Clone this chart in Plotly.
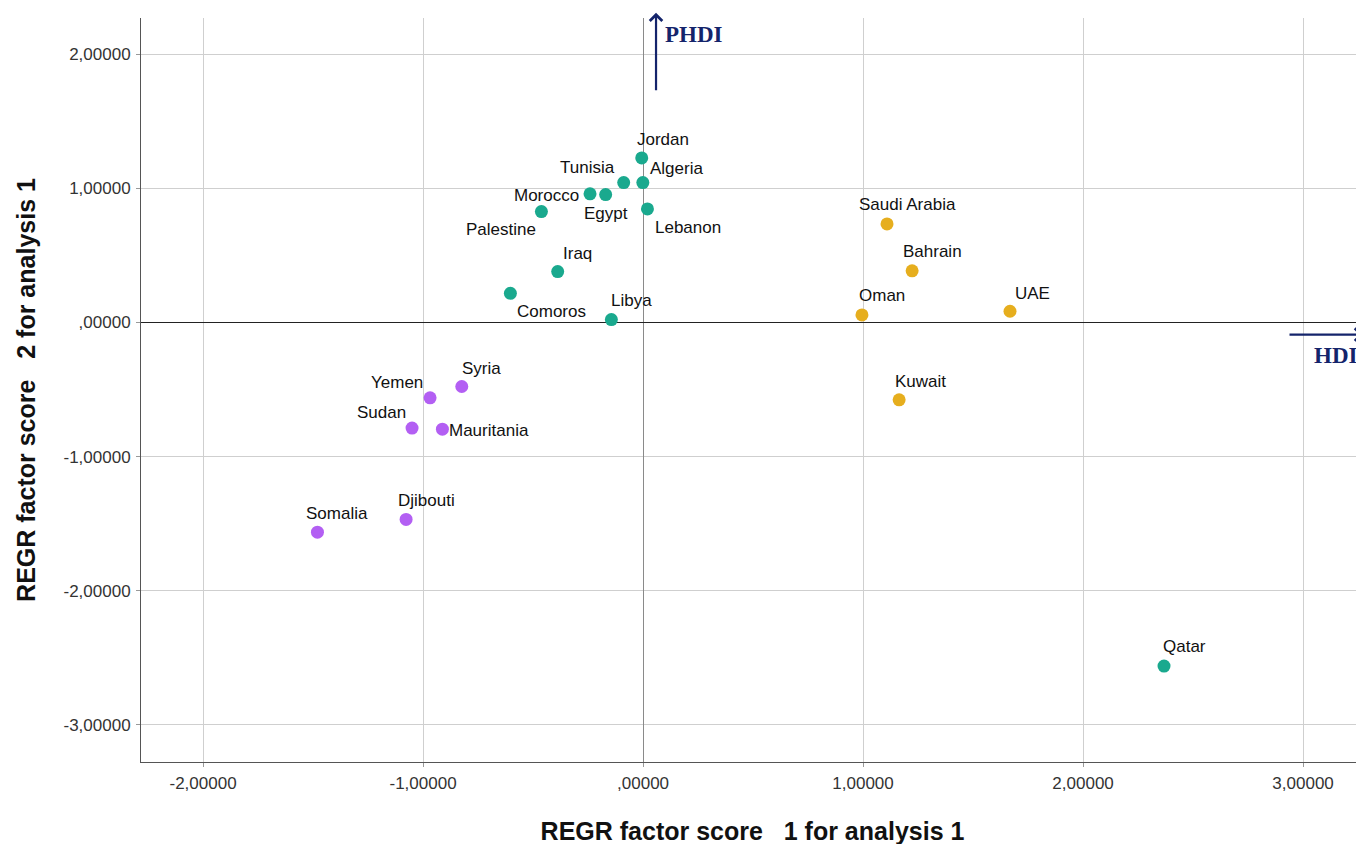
import plotly.graph_objects as go

# ---- data ----
countries = ["Jordan", "Algeria", "Tunisia", "Morocco", "Egypt", "Lebanon", "Palestine",
             "Iraq", "Comoros", "Libya", "Qatar",
             "Syria", "Yemen", "Sudan", "Mauritania", "Djibouti", "Somalia",
             "Saudi Arabia", "Bahrain", "Oman", "UAE", "Kuwait"]
factor1 = [-0.006, -0.001, -0.088, -0.241, -0.170, 0.020, -0.462,
           -0.388, -0.603, -0.144, 2.368,
           -0.824, -0.968, -1.050, -0.912, -1.077, -1.480,
           1.109, 1.223, 0.995, 1.668, 1.164]
factor2 = [1.227, 1.043, 1.043, 0.959, 0.954, 0.847, 0.827,
           0.380, 0.218, 0.022, -2.561,
           -0.477, -0.561, -0.787, -0.795, -1.468, -1.563,
           0.735, 0.385, 0.057, 0.084, -0.576]
cluster = [1, 1, 1, 1, 1, 1, 1, 1, 1, 1, 1,
           2, 2, 2, 2, 2, 2,
           3, 3, 3, 3, 3]

tick_vals_x = [-2, -1, 0, 1, 2, 3]
tick_text_x = ["-2,00000", "-1,00000", ",00000", "1,00000", "2,00000", "3,00000"]
tick_vals_y = [2, 1, 0, -1, -2, -3]
tick_text_y = ["2,00000", "1,00000", ",00000", "-1,00000", "-2,00000", "-3,00000"]

# ---- styles ----
cluster_colors = {1: "#1aa98e", 2: "#b35ff3", 3: "#e6ae1e"}
# label offsets in pixels (dx, dy) relative to the point (screen coordinates, dy down)
label_offsets = {
    "Jordan": (21, -18), "Algeria": (34, -14), "Tunisia": (-36, -15), "Morocco": (-44, 2),
    "Egypt": (0, 19), "Lebanon": (41, 19), "Palestine": (-40, 18), "Iraq": (20, -18),
    "Comoros": (41, 18), "Libya": (20, -19), "Qatar": (20, -20),
    "Syria": (20, -18), "Yemen": (-33, -15), "Sudan": (-31, -16), "Mauritania": (47, 1),
    "Djibouti": (20, -19), "Somalia": (20, -19),
    "Saudi Arabia": (20, -19), "Bahrain": (20, -19), "Oman": (20, -19), "UAE": (22, -18),
    "Kuwait": (21, -18),
}

fig = go.Figure()
for c in [1, 2, 3]:
    xs = [x for x, k in zip(factor1, cluster) if k == c]
    ys = [y for y, k in zip(factor2, cluster) if k == c]
    fig.add_trace(go.Scatter(x=xs, y=ys, mode="markers",
                             marker=dict(size=13, color=cluster_colors[c]),
                             showlegend=False, hoverinfo="skip"))

annotations = []
for name, x, y in zip(countries, factor1, factor2):
    dx, dy = label_offsets[name]
    annotations.append(dict(x=x, y=y, xref="x", yref="y", text=name, showarrow=False,
                            xshift=dx, yshift=-dy,
                            font=dict(family="Liberation Sans, Arial", size=17, color="#111")))

navy = "#14246b"
# PHDI arrow (vertical, pointing up)
annotations.append(dict(x=0.059, y=1.007, xref="x", yref="paper", ax=0, ay=79,
                        text="", showarrow=True, arrowhead=4, arrowsize=1.1,
                        arrowwidth=2.2, arrowcolor=navy))
annotations.append(dict(x=0.232, y=2.145, xref="x", yref="y", text="<b>PHDI</b>",
                        showarrow=False,
                        font=dict(family="Liberation Serif, Times New Roman", size=23, color=navy)))
# HDI arrow (horizontal, pointing right)
annotations.append(dict(x=1.0, y=-0.09, xref="paper", yref="y", ax=-76, ay=0,
                        text="", showarrow=True, arrowhead=4, arrowsize=1.1,
                        arrowwidth=2.2, arrowcolor=navy))
annotations.append(dict(x=3.15, y=-0.246, xref="x", yref="y", text="<b>HDI</b>",
                        showarrow=False,
                        font=dict(family="Liberation Serif, Times New Roman", size=23, color=navy)))

fig.update_layout(
    width=1356, height=844,
    margin=dict(l=133, r=0, t=10, b=90),
    plot_bgcolor="white", paper_bgcolor="white",
    font=dict(family="Liberation Sans, Arial", color="#333"),
    annotations=annotations,
    xaxis=dict(range=[-2.282, 3.277], tickvals=tick_vals_x, ticktext=tick_text_x,
               showgrid=True, gridcolor="#cfcfcf", gridwidth=1,
               zeroline=True, zerolinecolor="#8a8a8a", zerolinewidth=1,
               showline=True, linecolor="#555", linewidth=1,
               ticks="outside", ticklen=4, tickcolor="#999",
               tickfont=dict(size=17, color="#333"), ticklabelstandoff=2,
               title=dict(text="<b>REGR factor score   1 for analysis 1</b>",
                          font=dict(size=25, color="#111"), standoff=30)),
    yaxis=dict(range=[-3.276, 2.27], tickvals=tick_vals_y, ticktext=tick_text_y,
               showgrid=True, gridcolor="#cfcfcf", gridwidth=1,
               zeroline=True, zerolinecolor="#222", zerolinewidth=1.2,
               showline=True, linecolor="#555", linewidth=1,
               ticks="outside", ticklen=4, tickcolor="#999",
               tickfont=dict(size=17, color="#333"), ticklabelstandoff=2,
               title=dict(text="<b>REGR factor score   2 for analysis 1</b>",
                          font=dict(size=25, color="#111"), standoff=20)),
)

fig.write_html("out.html")
